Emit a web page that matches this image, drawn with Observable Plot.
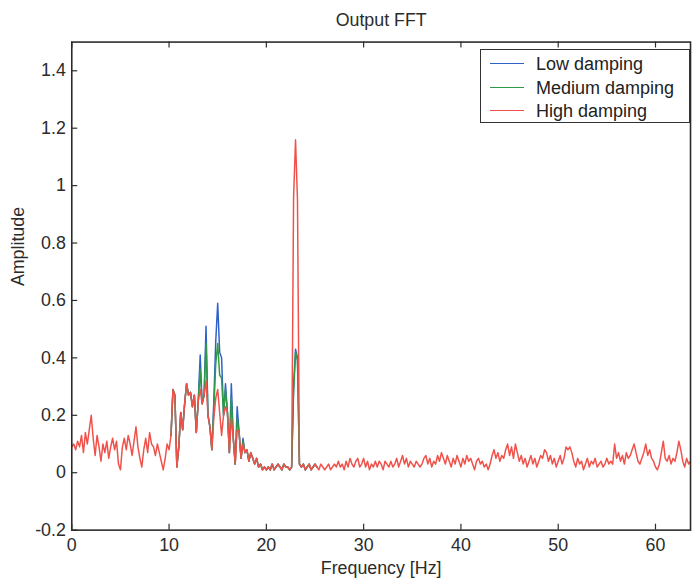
<!DOCTYPE html>
<html>
<head>
<meta charset="utf-8">
<script src="https://cdn.jsdelivr.net/npm/d3@7"></script>
<script src="https://cdn.jsdelivr.net/npm/@observablehq/plot@0.6"></script>
<style>
  html, body { margin: 0; padding: 0; background: #fff; overflow: hidden; }
  #wrap { position: relative; width: 693px; height: 588px; overflow: hidden; font-family: "Liberation Sans", Arial, sans-serif; }
  #legend { position: absolute; left: 480px; top: 49px; width: 210px; height: 74px; border: 1.5px solid #333; background: #fff; box-sizing: border-box; }
  .row { position: absolute; left: 0; height: 22px; width: 100%; }
  .row .sw { position: absolute; left: 9px; top: 10px; width: 34px; height: 0; border-top: 1.5px solid; }
  .row .lb { position: absolute; left: 55px; top: 0; font-size: 18px; line-height: 22px; color: #222; white-space: nowrap; }
</style>
</head>
<body>
<div id="wrap"><div id="chart"></div><div id="legend"></div></div>
<script>
// ---------- data ----------
const title = "Output FFT";
const xLabel = "Frequency [Hz]";
const yLabel = "Amplitude";
const seriesNames = ["Low damping", "Medium damping", "High damping"];
const seriesColors = ["#2f62c8", "#2f9a45", "#f0524b"];
const xTicks = [0, 10, 20, 30, 40, 50, 60];
const xTickLabels = ["0", "10", "20", "30", "40", "50", "60"];
const yTicks = [-0.2, 0, 0.2, 0.4, 0.6, 0.8, 1, 1.2, 1.4];
const yTickLabels = ["-0.2", "0", "0.2", "0.4", "0.6", "0.8", "1", "1.2", "1.4"];

const freqStep = 0.2;          // Hz between FFT bins
const lowStart = 10.2;         // first bin of the low-damping record shown
const mediumStart = 10.2;      // first bin of the medium-damping record shown
const highStart = 0;           // first bin of the high-damping record

const lowDamping = [
  0.13,0.29,0.27,0.02,0.09,0.21,0.15,0.24,0.31,0.27,
  0.28,0.23,0.27,0.14,0.25,0.41,0.24,0.27,0.51,0.20,
  0.16,0.08,0.25,0.46,0.59,0.42,0.40,0.20,0.31,0.21,
  0.07,0.31,0.12,0.03,0.23,0.14,0.05,0.12,0.07,0.08,
  0.04,0.07,0.05,0.03,0.05,0.02,0.03,0.01,0.02,0.01,
  0.02,0.01,0.03,0.01,0.02,0.03,0.02,0.01,0.03,0.02,
  0.02,0.01,0.02,0.30,0.43,0.40,0.03,0.02,0.03,0.01,
  0.02,0.03,0.01,0.02,0.03,0.02
];

const mediumDamping = [
  0.13,0.29,0.27,0.02,0.09,0.21,0.15,0.24,0.31,0.27,
  0.28,0.23,0.27,0.14,0.25,0.36,0.24,0.27,0.45,0.20,
  0.16,0.08,0.22,0.38,0.45,0.34,0.33,0.20,0.29,0.21,
  0.07,0.26,0.12,0.03,0.19,0.14,0.05,0.11,0.07,0.08,
  0.04,0.07,0.05,0.03,0.05,0.02,0.03,0.01,0.02,0.01,
  0.02,0.01,0.03,0.01,0.02,0.03,0.02,0.01,0.03,0.02,
  0.02,0.01,0.02,0.28,0.42,0.39,0.03,0.02,0.03,0.01,
  0.02,0.03,0.01,0.02,0.03,0.02
];

const highDamping = [
  0.09,
  0.10,0.08,0.11,0.09,0.13,0.07,0.14,0.10,0.15,0.20,
  0.12,0.06,0.13,0.09,0.04,0.10,0.07,0.11,0.05,0.09,
  0.12,0.08,0.11,0.03,0.01,0.09,0.12,0.08,0.13,0.10,
  0.06,0.11,0.16,0.09,0.05,0.02,0.08,0.12,0.07,0.14,
  0.10,0.09,0.06,0.10,0.07,0.04,0.01,0.05,0.10,0.08,
  0.13,0.29,0.27,0.02,0.09,0.21,0.15,0.24,0.31,0.27,
  0.28,0.23,0.27,0.14,0.25,0.29,0.24,0.27,0.32,0.20,
  0.16,0.08,0.19,0.26,0.29,0.21,0.13,0.20,0.23,0.21,
  0.07,0.19,0.12,0.03,0.15,0.14,0.05,0.10,0.07,0.08,
  0.04,0.07,0.05,0.03,0.05,0.02,0.03,0.01,0.02,0.01,
  0.02,0.01,0.03,0.01,0.02,0.03,0.02,0.01,0.03,0.02,
  0.02,0.01,0.02,0.96,1.16,0.95,0.03,0.02,0.03,0.01,
  0.02,0.03,0.01,0.02,0.03,0.02,0.01,0.03,0.02,0.01,
  0.02,0.03,0.01,0.02,0.03,0.02,0.04,0.02,0.03,0.01,
  0.04,0.02,0.05,0.03,0.02,0.04,0.05,0.02,0.03,0.05,
  0.02,0.04,0.01,0.03,0.02,0.04,0.02,0.04,0.03,0.01,
  0.04,0.03,0.02,0.04,0.02,0.03,0.05,0.02,0.04,0.06,
  0.03,0.05,0.02,0.04,0.03,0.02,0.04,0.03,0.02,0.03,
  0.05,0.06,0.03,0.05,0.02,0.04,0.03,0.06,0.04,0.07,
  0.05,0.03,0.06,0.04,0.02,0.05,0.03,0.06,0.04,0.02,
  0.05,0.03,0.06,0.04,0.05,0.03,0.01,0.04,0.05,0.03,
  0.04,0.02,0.03,0.01,0.03,0.06,0.08,0.05,0.07,0.04,
  0.06,0.05,0.08,0.10,0.06,0.09,0.05,0.10,0.07,0.04,
  0.06,0.03,0.05,0.02,0.04,0.06,0.03,0.05,0.02,0.04,
  0.06,0.05,0.08,0.07,0.04,0.06,0.03,0.05,0.02,0.04,
  0.06,0.03,0.05,0.09,0.08,0.09,0.07,0.04,0.02,0.05,
  0.03,0.04,0.01,0.03,0.05,0.02,0.04,0.03,0.05,0.02,
  0.03,0.04,0.02,0.03,0.05,0.03,0.04,0.03,0.10,0.05,
  0.07,0.04,0.06,0.03,0.07,0.05,0.06,0.08,0.10,0.07,
  0.04,0.03,0.05,0.07,0.10,0.06,0.08,0.05,0.04,0.02,
  0.01,0.03,0.07,0.11,0.05,0.04,0.06,0.03,0.05,0.04,
  0.07,0.11,0.08,0.04,0.02,0.05,0.03,0.04
];

// ---------- table for Plot ----------
function rows(start, vals, name) {
  return vals.map((v, i) => ({ f: +(start + i * freqStep).toFixed(3), a: v, s: name }));
}
const table = [
  ...rows(lowStart, lowDamping, seriesNames[0]),
  ...rows(mediumStart, mediumDamping, seriesNames[1]),
  ...rows(highStart, highDamping, seriesNames[2])
];

const ink = "#2b2b2b";
const plot = Plot.plot({
  width: 700,
  height: 588,
  marginLeft: 72,
  marginRight: 3,
  marginTop: 42,
  marginBottom: 53,
  style: { fontFamily: "'Liberation Sans', Arial, sans-serif", fontSize: "18px", color: ink, background: "#fff" },
  x: { domain: [0, 63.6], ticks: xTicks, tickSize: 0, tickPadding: 8, label: null,
       tickFormat: d => xTickLabels[xTicks.indexOf(d)] },
  y: { domain: [-0.2, 1.5], ticks: yTicks, tickSize: 0, tickPadding: 6, label: null,
       tickFormat: d => yTickLabels[yTicks.indexOf(d)] },
  color: { domain: seriesNames, range: seriesColors },
  marks: [
    Plot.lineY(table, { x: "f", y: "a", z: "s", stroke: "s", strokeWidth: 1.5, clip: true }),
    Plot.ruleX(xTicks, { x: d => d, stroke: ink, strokeWidth: 1.2, insetTop: 487 }),
    Plot.ruleX(xTicks, { x: d => d, stroke: ink, strokeWidth: 1.2, insetBottom: 487 }),
    Plot.ruleY(yTicks, { y: d => d, stroke: ink, strokeWidth: 1.2, insetRight: 619 }),
    Plot.frame({ stroke: ink, strokeWidth: 1.6 }),
    Plot.text([title], { text: d => d, frameAnchor: "top", lineAnchor: "middle", dy: -22, fill: ink, fontSize: 18 }),
    Plot.text([xLabel], { text: d => d, frameAnchor: "bottom", lineAnchor: "middle", dy: 39, fill: ink, fontSize: 18 }),
    Plot.text([yLabel], { text: d => d, frameAnchor: "left", lineAnchor: "middle", dx: -54, rotate: -90, fill: ink, fontSize: 18 })
  ]
});
document.getElementById("chart").appendChild(plot);

// ---------- legend ----------
const legend = document.getElementById("legend");
const rowTops = [3, 27, 50];
seriesNames.forEach((name, i) => {
  const r = document.createElement("div");
  r.className = "row";
  r.style.top = rowTops[i] + "px";
  const sw = document.createElement("div");
  sw.className = "sw";
  sw.style.borderTopColor = seriesColors[i];
  const lb = document.createElement("div");
  lb.className = "lb";
  lb.textContent = name;
  r.appendChild(sw); r.appendChild(lb);
  legend.appendChild(r);
});
</script>
</body>
</html>
